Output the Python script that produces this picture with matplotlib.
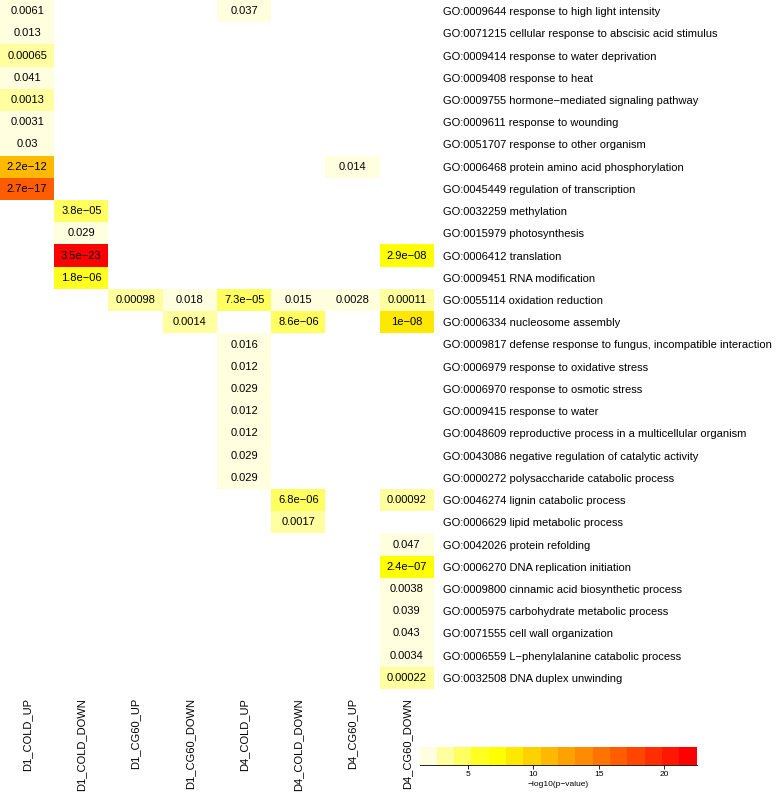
import colorsys
import numpy as np
import matplotlib
matplotlib.use("Agg")
import matplotlib.pyplot as plt
from matplotlib.colors import ListedColormap, BoundaryNorm
from matplotlib.cm import ScalarMappable

plt.rcParams['font.family'] = ['Liberation Sans', 'DejaVu Sans']

samples = ['D1_COLD_UP', 'D1_COLD_DOWN', 'D1_CG60_UP', 'D1_CG60_DOWN',
           'D4_COLD_UP', 'D4_COLD_DOWN', 'D4_CG60_UP', 'D4_CG60_DOWN']

go_terms = [
    'GO:0009644 response to high light intensity',
    'GO:0071215 cellular response to abscisic acid stimulus',
    'GO:0009414 response to water deprivation',
    'GO:0009408 response to heat',
    'GO:0009755 hormone\u2212mediated signaling pathway',
    'GO:0009611 response to wounding',
    'GO:0051707 response to other organism',
    'GO:0006468 protein amino acid phosphorylation',
    'GO:0045449 regulation of transcription',
    'GO:0032259 methylation',
    'GO:0015979 photosynthesis',
    'GO:0006412 translation',
    'GO:0009451 RNA modification',
    'GO:0055114 oxidation reduction',
    'GO:0006334 nucleosome assembly',
    'GO:0009817 defense response to fungus, incompatible interaction',
    'GO:0006979 response to oxidative stress',
    'GO:0006970 response to osmotic stress',
    'GO:0009415 response to water',
    'GO:0048609 reproductive process in a multicellular organism',
    'GO:0043086 negative regulation of catalytic activity',
    'GO:0000272 polysaccharide catabolic process',
    'GO:0046274 lignin catabolic process',
    'GO:0006629 lipid metabolic process',
    'GO:0042026 protein refolding',
    'GO:0006270 DNA replication initiation',
    'GO:0009800 cinnamic acid biosynthetic process',
    'GO:0005975 carbohydrate metabolic process',
    'GO:0071555 cell wall organization',
    'GO:0006559 L\u2212phenylalanine catabolic process',
    'GO:0032508 DNA duplex unwinding',
]

# p-values per sample, keyed by row index in go_terms (label text as printed)
d1_cold_up = {0: '0.0061', 1: '0.013', 2: '0.00065', 3: '0.041', 4: '0.0013',
              5: '0.0031', 6: '0.03', 7: '2.2e-12', 8: '2.7e-17'}
d1_cold_down = {9: '3.8e-05', 10: '0.029', 11: '3.5e-23', 12: '1.8e-06'}
d1_cg60_up = {13: '0.00098'}
d1_cg60_down = {13: '0.018', 14: '0.0014'}
d4_cold_up = {0: '0.037', 13: '7.3e-05', 15: '0.016', 16: '0.012', 17: '0.029',
              18: '0.012', 19: '0.012', 20: '0.029', 21: '0.029'}
d4_cold_down = {13: '0.015', 14: '8.6e-06', 22: '6.8e-06', 23: '0.0017'}
d4_cg60_up = {7: '0.014', 13: '0.0028'}
d4_cg60_down = {11: '2.9e-08', 13: '0.00011', 14: '1e-08', 22: '0.00092',
                24: '0.047', 25: '2.4e-07', 26: '0.0038', 27: '0.039',
                28: '0.043', 29: '0.0034', 30: '0.00022'}

columns = [d1_cold_up, d1_cold_down, d1_cg60_up, d1_cg60_down,
           d4_cold_up, d4_cold_down, d4_cg60_up, d4_cg60_down]

n_rows, n_cols = len(go_terms), len(samples)
score = np.full((n_rows, n_cols), np.nan)
for j, col in enumerate(columns):
    for i, p in col.items():
        score[i, j] = -np.log10(float(p))

# R heat.colors(16), reversed
n_col = 16
nj = n_col // 4
ni = n_col - nj
heat = [colorsys.hsv_to_rgb(h, 1, 1) for h in np.linspace(0, 1 / 6, ni)]
heat += [colorsys.hsv_to_rgb(1 / 6, s, 1)
         for s in np.linspace(1 - 1 / (2 * nj), 1 / (2 * nj), nj)]
cmap = ListedColormap(heat[::-1])
cmap.set_bad('white')
vmin, vmax = np.nanmin(score), np.nanmax(score)
norm = BoundaryNorm(np.linspace(vmin, vmax, n_col + 1), n_col)

fs = 8
fig = plt.figure(figsize=(7.78, 7.94), dpi=100)
ax = fig.add_axes([0, 1 - 689 / 794, 434 / 778, 689 / 794])
ax.pcolormesh(np.ma.masked_invalid(score), cmap=cmap, norm=norm)
ax.set_xlim(0, n_cols)
ax.set_ylim(n_rows, 0)
for j, col in enumerate(columns):
    for i, p in col.items():
        ax.text(j + 0.5, i + 0.5, p.replace('-', '\u2212'), ha='center',
                va='center', fontsize=fs)

for s in ax.spines.values():
    s.set_visible(False)
ax.set_xticks(np.arange(n_cols) + 0.5)
ax.set_xticklabels(samples, rotation=90, va='top', ha='center', fontsize=fs)
ax.yaxis.tick_right()
ax.set_yticks(np.arange(n_rows) + 0.5)
ax.set_yticklabels(go_terms, ha='left', fontsize=fs)
ax.tick_params(length=0)
ax.tick_params(axis='x', pad=6.5)
ax.tick_params(axis='y', pad=6.5)

cax = fig.add_axes([419.5 / 778, 1 - 764.5 / 794, 277 / 778, 17.5 / 794])
cb = fig.colorbar(ScalarMappable(norm=norm, cmap=cmap), cax=cax,
                  orientation='horizontal')
cb.outline.set_visible(False)
cb.set_ticks([5, 10, 15, 20])
cb.minorticks_off()
cb.ax.tick_params(labelsize=6, length=3, width=0.6, pad=2)
cax.plot([0, 1], [0, 0], transform=cax.transAxes, color='black', lw=0.6,
         clip_on=False)
cb.set_label('\u2212log10(p\u2212value)', fontsize=6, labelpad=2)

fig.savefig('out.png', dpi=100)
